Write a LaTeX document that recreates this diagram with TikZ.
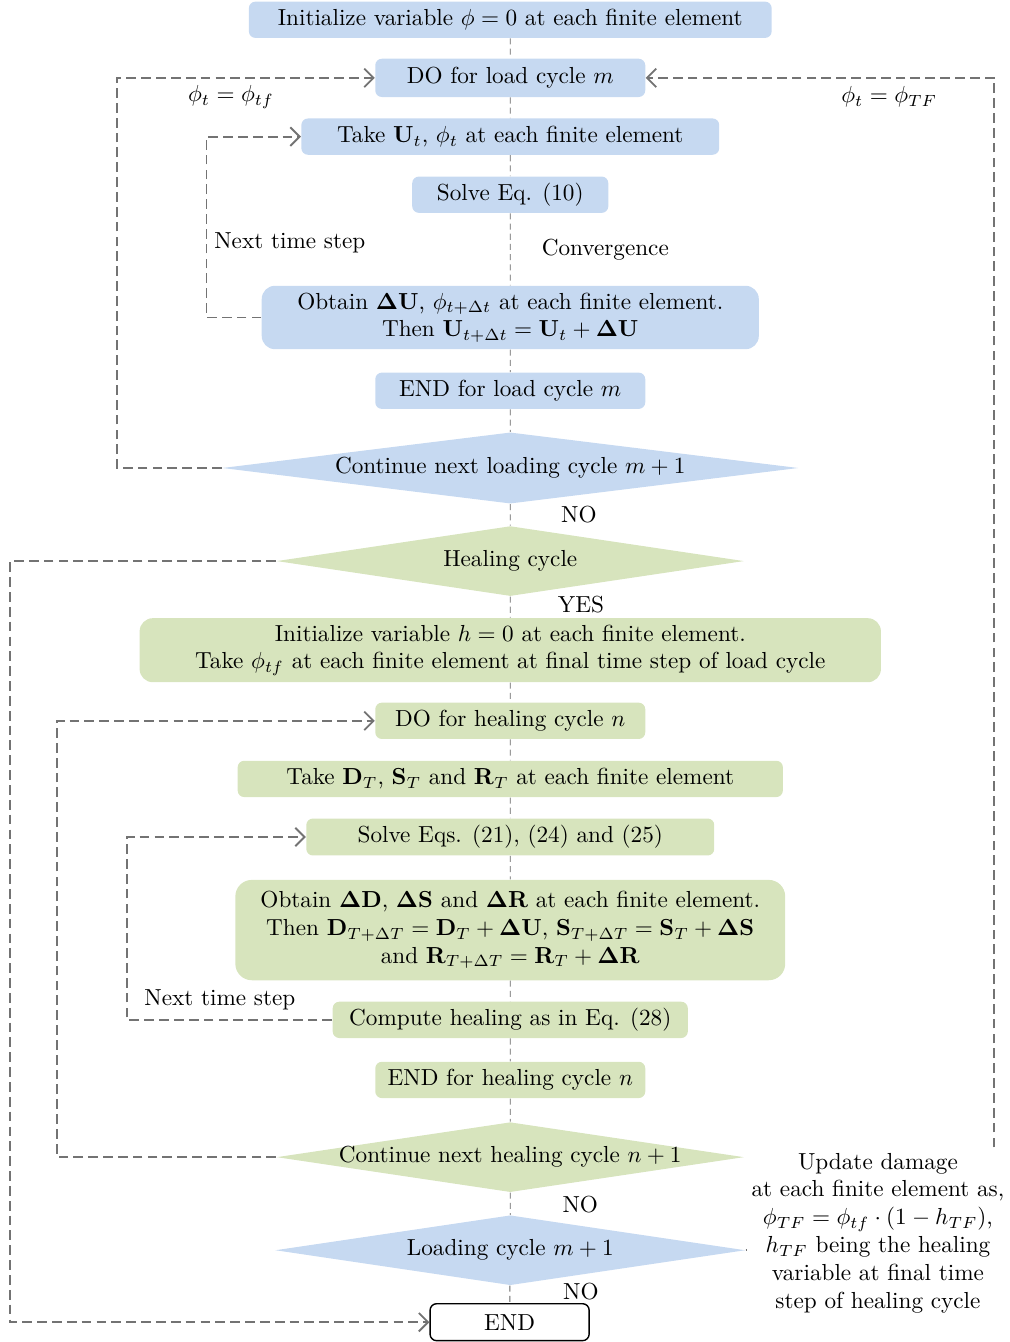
\documentclass[tikz,border=0pt]{standalone}
\usepackage{tikz}
\usetikzlibrary{shapes.geometric,arrows.meta}
\definecolor{loadblue}{RGB}{198,217,241}
\definecolor{healgreen}{RGB}{215,228,189}
\tikzset{
	box/.style={rectangle, rounded corners=1mm, inner sep=0pt, minimum height=0.55cm, align=center},
	loadbox/.style={box, fill=loadblue},
	healbox/.style={box, fill=healgreen},
	decision/.style={diamond, shape aspect=1, inner sep=0pt},
	spine/.style={line width=0.4pt, color=black!60, dash pattern=on 2.6pt off 1.8pt},
	loopline/.style={line width=0.8pt, color=black!55, dash pattern=on 4.2pt off 2.2pt, >={Straight Barb[length=1.4mm,width=2.8mm]}}
}

\begin{document}
\begin{tikzpicture}
			%%%%% START %%%%%
			\useasboundingbox (0, 0) rectangle (15.29, 20.33);
			
			\node[loadbox, minimum width=7.92cm] (init) at (7.73, 20.03) {Initialize variable $\phi = 0$ at each finite element};
			\node[loadbox, minimum width=4.09cm, minimum height=0.58cm] (doload) at (7.73, 19.15) {DO for load cycle $m$};
			\node[loadbox, minimum width=6.33cm] (take) at (7.73, 18.26) {Take $\mathbf{U}_t$, $\phi_t$ at each finite element};
			\node[loadbox, minimum width=2.97cm] (solve) at (7.73, 17.38) {Solve Eq. (10)};
			\node[loadbox, rounded corners=2mm, minimum width=7.53cm, minimum height=0.96cm] (obtain) at (7.73, 15.52) {Obtain $\mathbf{\Delta U}$, $\phi_{t+\Delta t}$ at each finite element.\\ Then $\mathbf{U}_{t+\Delta t} = \mathbf{U}_t + \mathbf{\Delta U}$};
			\node[loadbox, minimum width=4.09cm] (endload) at (7.73, 14.41) {END for load cycle $m$};
			\node[decision, fill=loadblue, minimum width=8.73cm, minimum height=1.08cm] (cont) at (7.73, 13.24) {\makebox[0pt]{Continue next loading cycle $m+1$}};
			
			\node[decision, fill=healgreen, minimum width=7.08cm, minimum height=1.06cm] (heal) at (7.73, 11.83) {\makebox[0pt]{Healing cycle}};
			\node[healbox, rounded corners=2mm, minimum width=11.23cm, minimum height=0.97cm] (inith) at (7.73, 10.48) {Initialize variable $h = 0$ at each finite element.\\ Take $\phi_{tf}$ at each finite element at final time step of load cycle};
			\node[healbox, minimum width=4.09cm] (doheal) at (7.73, 9.41) {DO for healing cycle $n$};
			\node[healbox, minimum width=8.26cm] (taked) at (7.73, 8.53) {Take $\mathbf{D}_T$, $\mathbf{S}_T$ and $\mathbf{R}_T$ at each finite element};
			\node[healbox, minimum width=6.18cm, minimum height=0.56cm] (solveeqs) at (7.73, 7.65) {Solve Eqs. (21), (24) and (25)};
			\node[healbox, rounded corners=2.5mm, minimum width=8.33cm, minimum height=1.52cm] (obtaind) at (7.73, 6.24) {Obtain $\mathbf{\Delta D}$, $\mathbf{\Delta S}$ and $\mathbf{\Delta R}$ at each finite element.\\ Then $\mathbf{D}_{T+\Delta T} = \mathbf{D}_T + \mathbf{\Delta U}$, $\mathbf{S}_{T+\Delta T} = \mathbf{S}_T + \mathbf{\Delta S}$\\ and $\mathbf{R}_{T+\Delta T} = \mathbf{R}_T + \mathbf{\Delta R}$};
			\node[healbox, minimum width=5.38cm] (compute) at (7.73, 4.88) {Compute healing as in Eq. (28)};
			\node[healbox, minimum width=4.09cm] (endheal) at (7.73, 3.97) {END for healing cycle $n$};
			\node[decision, fill=healgreen, minimum width=7.08cm, minimum height=1.06cm] (conth) at (7.73, 2.80) {\makebox[0pt]{Continue next healing cycle $n+1$}};
			
			\node[decision, fill=loadblue, minimum width=7.12cm, minimum height=1.06cm] (loadm) at (7.73, 1.39) {\makebox[0pt]{Loading cycle $m+1$}};
			\node[box, draw=black, line width=0.6pt, fill=white, minimum width=2.41cm, minimum height=0.56cm] (end) at (7.72, 0.30) {END};
			
			\node[align=center, inner sep=2pt] (update) at (13.30, 1.65) {Update damage\\ at each finite element as,\\ $\phi_{TF} = \phi_{tf}\cdot(1-h_{TF})$,\\ $h_{TF}$ being the healing\\ variable at final time\\ step of healing cycle};
			
			\node (phitf) at (3.50, 18.86) {$\phi_t = \phi_{tf}$};
			\node (phiTF) at (13.47, 18.86) {$\phi_t = \phi_{TF}$};
			\node (nextload) at (4.39, 16.65) {Next time step};
			\node (conv) at (9.17, 16.55) {Convergence};
			\node (no1) at (8.77, 12.53) {NO};
			\node (yes) at (8.80, 11.17) {YES};
			\node (nextheal) at (3.33, 5.18) {Next time step};
			\node (no2) at (8.79, 2.08) {NO};
			\node (no3) at (8.80, 0.76) {NO};
			
			\draw[spine] (init) -- (doload) -- (take) -- (solve) -- (obtain) -- (endload) -- (cont) -- (heal) -- (inith) -- (doheal) -- (taked) -- (solveeqs) -- (obtaind) -- (compute) -- (endheal) -- (conth) -- (loadm) -- (end);
			
			\draw[loopline, ->] (cont.west) -- ++(-1.59, 0) |- (doload.west);
			\draw[loopline, ->] (obtain.west) -- ++(-0.83, 0) |- (take.west);
			\draw[loopline, ->] (heal.west) -- ++(-4.03, 0) |- (end.west);
			\draw[loopline, ->] (conth.west) -- ++(-3.32, 0) |- (doheal.west);
			\draw[loopline, ->] (compute.west) -- ++(-3.11, 0) |- (solveeqs.west);
			
			\coordinate (rtop) at (15.06, 2.95);
			\draw[loopline, ->] (rtop) |- (doload.east);
			\draw[loopline] (loadm.east) -- (loadm.east -| update.west);
			
			%%%%% END %%%%%
		\end{tikzpicture}
\end{document}
